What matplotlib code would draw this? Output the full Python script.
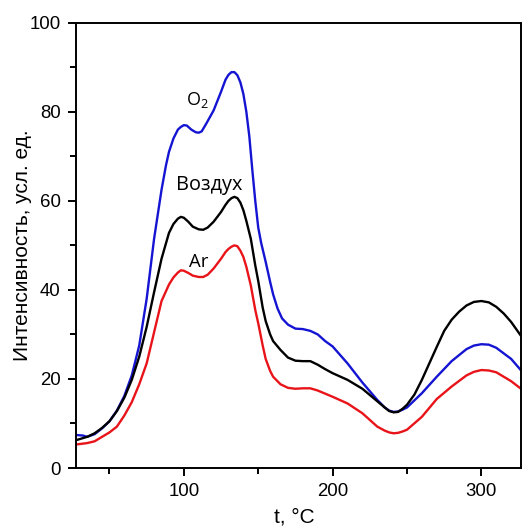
import matplotlib
matplotlib.use('Agg')
import matplotlib.pyplot as plt
from matplotlib.ticker import MultipleLocator

# temperature (C) and intensity for each atmosphere
t_air = [28, 35, 40, 45, 50, 55, 60, 65, 70, 75, 80, 85, 90, 93, 96, 98, 100, 103, 106, 110,
         113, 116, 120, 125, 128, 130, 132, 134, 136, 138, 140, 142, 145, 148, 150, 153, 155,
         158, 160, 165, 170, 175, 180, 185, 190, 195, 200, 210, 220, 230, 235, 238, 241, 244,
         247, 250, 255, 260, 265, 270, 275, 280, 285, 290, 295, 300, 305, 310, 315, 320, 327]
air = [6.3, 7.0, 7.8, 9.0, 10.5, 12.8, 15.8, 19.8, 25.0, 31.7, 39.5, 47.0, 52.8, 54.8, 56.0,
       56.4, 56.2, 55.3, 54.2, 53.6, 53.5, 54.0, 55.3, 57.5, 59.1, 60.0, 60.6, 60.9, 60.6, 59.6,
       57.9, 55.5, 51.5, 45.5, 42.0, 36.0, 33.0, 30.0, 28.5, 26.5, 24.8, 24.1, 24.0, 24.0, 23.2,
       22.2, 21.3, 19.8, 17.8, 15.0, 13.6, 12.8, 12.5, 12.6, 13.3, 14.2, 16.5, 19.8, 23.5, 27.2,
       30.8, 33.3, 35.1, 36.5, 37.3, 37.5, 37.2, 36.2, 34.7, 32.8, 29.5]

t_o2 = [28, 32, 35, 40, 45, 50, 55, 60, 65, 70, 75, 80, 85, 88, 90, 93, 96, 98, 100, 102, 105,
        108, 110, 112, 115, 120, 125, 128, 130, 132, 134, 136, 138, 140, 142, 144, 146, 148,
        150, 152, 155, 158, 160, 163, 166, 170, 175, 180, 185, 190, 195, 200, 210, 220, 230,
        235, 238, 241, 244, 247, 250, 260, 270, 280, 290, 295, 300, 305, 310, 320, 327]
o2 = [7.4, 7.3, 7.0, 7.6, 8.9, 10.5, 12.9, 16.2, 20.8, 27.5, 38.0, 51.5, 62.5, 68.0, 71.0,
      74.0, 76.0, 76.6, 77.0, 76.9, 76.0, 75.4, 75.3, 75.6, 77.3, 80.3, 84.5, 87.2, 88.3, 88.9,
      88.9, 88.2, 86.6, 84.0, 80.0, 74.5, 67.0, 60.0, 54.0, 50.5, 46.3, 41.8, 39.0, 35.8, 33.6,
      32.2, 31.3, 31.2, 30.8, 30.0, 28.5, 27.3, 23.5, 19.2, 15.3, 13.6, 12.9, 12.6, 12.7, 13.1,
      13.6, 16.8, 20.5, 24.0, 26.7, 27.5, 27.8, 27.7, 27.0, 24.5, 21.8]

t_ar = [28, 35, 40, 45, 50, 55, 60, 65, 70, 75, 80, 85, 90, 93, 96, 98, 100, 103, 106, 110,
        113, 116, 120, 125, 128, 130, 132, 134, 136, 138, 140, 142, 145, 148, 150, 153, 155,
        158, 160, 165, 170, 175, 180, 185, 190, 195, 200, 210, 220, 230, 235, 238, 241, 244,
        247, 250, 260, 270, 280, 290, 295, 300, 305, 310, 320, 327]
ar = [5.3, 5.6, 6.0, 7.0, 8.0, 9.3, 11.8, 14.8, 18.8, 23.5, 30.5, 37.5, 41.2, 42.8, 43.9,
      44.4, 44.3, 43.8, 43.2, 42.9, 42.9, 43.4, 44.8, 47.0, 48.5, 49.2, 49.7, 50.0, 49.8, 48.8,
      47.4, 45.2, 41.0, 35.5, 32.5, 27.5, 24.5, 21.8, 20.5, 18.8, 18.0, 17.8, 17.9, 17.9, 17.4,
      16.7, 16.0, 14.5, 12.3, 9.3, 8.4, 8.0, 7.8, 7.9, 8.2, 8.6, 11.5, 15.5, 18.3, 20.8, 21.6,
      22.0, 21.9, 21.5, 19.5, 17.7]

plt.rcParams['font.family'] = ['Liberation Sans', 'DejaVu Sans']
plt.rcParams['mathtext.fontset'] = 'custom'
plt.rcParams['mathtext.rm'] = 'Open Sans'
plt.rcParams['mathtext.default'] = 'rm'

fig = plt.figure(figsize=(5.22, 5.28), dpi=100)
ax = fig.add_axes([0.1456, 0.1136, 0.8524, 0.8434])

ax.plot(t_o2, o2, color='#1414d2', lw=1.7)
ax.plot(t_air, air, color='black', lw=1.7)
ax.plot(t_ar, ar, color='#e8141a', lw=1.7)

lab_font = ['Open Sans', 'DejaVu Sans']
ax.text(109, 81.5, r'O$_2$', fontsize=13, family=lab_font, ha='center', va='baseline')
ax.text(116.7, 62.4, 'Воздух', fontsize=14.3, family=lab_font, ha='center', va='baseline')
ax.text(110.3, 45.1, 'Ar', fontsize=13.3, family=lab_font, ha='center', va='baseline')

ax.set_xlim(27.5, 326.6)
ax.set_ylim(0, 100)
ax.xaxis.set_major_locator(MultipleLocator(100))
ax.xaxis.set_minor_locator(MultipleLocator(50))
ax.yaxis.set_major_locator(MultipleLocator(20))
ax.yaxis.set_minor_locator(MultipleLocator(10))
ax.tick_params(which='both', direction='out', width=1.4, labelsize=13.4, pad=5)
ax.tick_params(which='major', length=6)
ax.tick_params(which='minor', length=4)
ax.tick_params(top=False, right=False)
for s in ax.spines.values():
    s.set_linewidth(1.4)

ax.set_ylabel('Интенсивность, усл. ед.', fontsize=15)
ax.yaxis.set_label_coords(-0.10, 0.5)
ax.set_xlabel('t, °C', fontsize=15)
ax.xaxis.set_label_coords(0.49, -0.0876)

fig.savefig('out.png', dpi=100)
